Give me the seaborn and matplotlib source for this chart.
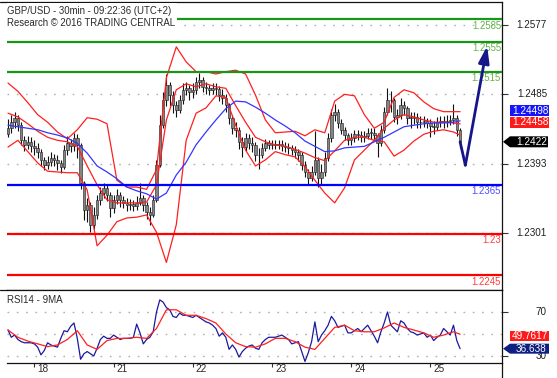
import numpy as np
import pandas as pd
import seaborn as sns
import matplotlib
matplotlib.use("Agg")
import matplotlib.pyplot as plt
from matplotlib.patches import Polygon, Rectangle
from matplotlib.lines import Line2D
from matplotlib.transforms import ScaledTranslation, blended_transform_factory

# ---------------- data (hourly bars) ----------------
day_labels = ['18', '21', '22', '23', '24', '25']
day_start_bar = [8, 32, 56, 80, 104, 128]

open_first = 1.2432
close = [1.2440, 1.2448, 1.2454, 1.2444, 1.2424, 1.2418, 1.2422, 1.2416, 1.2414, 1.2408,
         1.2398, 1.2391, 1.2395, 1.2400, 1.2398, 1.2394, 1.2389, 1.2411, 1.2420, 1.2416,
         1.2427, 1.2418, 1.2367, 1.2331, 1.2338, 1.2312, 1.2325, 1.2345, 1.2354, 1.2361,
         1.2351, 1.2334, 1.2345, 1.2351, 1.2345, 1.2341, 1.2338, 1.2339, 1.2337, 1.2341,
         1.2347, 1.2338, 1.2329, 1.2325, 1.2345, 1.2391, 1.2444, 1.2477, 1.2497, 1.2484,
         1.2471, 1.2464, 1.2477, 1.2491, 1.2493, 1.2488, 1.2491, 1.2501, 1.2504, 1.2495,
         1.2493, 1.2491, 1.2493, 1.2492, 1.2484, 1.2480, 1.2471, 1.2454, 1.2440, 1.2438,
         1.2422, 1.2415, 1.2427, 1.2420, 1.2418, 1.2404, 1.2404, 1.2414, 1.2420, 1.2418,
         1.2419, 1.2418, 1.2419, 1.2416, 1.2415, 1.2414, 1.2411, 1.2408, 1.2404, 1.2391,
         1.2382, 1.2374, 1.2382, 1.2398, 1.2374, 1.2382, 1.2400, 1.2427, 1.2458, 1.2462,
         1.2447, 1.2438, 1.2431, 1.2424, 1.2427, 1.2432, 1.2431, 1.2428, 1.2430, 1.2434,
         1.2434, 1.2431, 1.2420, 1.2438, 1.2462, 1.2477, 1.2477, 1.2455, 1.2458, 1.2471,
         1.2467, 1.2454, 1.2454, 1.2455, 1.2448, 1.2448, 1.2450, 1.2447, 1.2443, 1.2442,
         1.2448, 1.2450, 1.2448, 1.2450, 1.2451, 1.2454, 1.2438, 1.2422]
high = [1.2452, 1.2458, 1.2462, 1.2458, 1.2448, 1.2430, 1.2430, 1.2428, 1.2424, 1.2420,
        1.2412, 1.2402, 1.2403, 1.2408, 1.2406, 1.2404, 1.2398, 1.2418, 1.2430, 1.2426,
        1.2434, 1.2432, 1.2420, 1.2370, 1.2348, 1.2342, 1.2336, 1.2352, 1.2362, 1.2368,
        1.2366, 1.2356, 1.2352, 1.2360, 1.2356, 1.2350, 1.2348, 1.2346, 1.2345, 1.2350,
        1.2368, 1.2352, 1.2342, 1.2336, 1.2352, 1.2398, 1.2458, 1.2488, 1.2512, 1.2502,
        1.2490, 1.2476, 1.2484, 1.2500, 1.2502, 1.2498, 1.2500, 1.2508, 1.2513, 1.2508,
        1.2502, 1.2498, 1.2500, 1.2500, 1.2496, 1.2492, 1.2486, 1.2474, 1.2458, 1.2448,
        1.2442, 1.2428, 1.2434, 1.2432, 1.2428, 1.2422, 1.2414, 1.2420, 1.2426, 1.2424,
        1.2424, 1.2424, 1.2424, 1.2424, 1.2422, 1.2420, 1.2418, 1.2416, 1.2412, 1.2408,
        1.2396, 1.2386, 1.2390, 1.2436, 1.2402, 1.2392, 1.2408, 1.2434, 1.2466, 1.2472,
        1.2466, 1.2452, 1.2442, 1.2434, 1.2434, 1.2438, 1.2438, 1.2436, 1.2436, 1.2440,
        1.2440, 1.2440, 1.2434, 1.2444, 1.2468, 1.2494, 1.2490, 1.2480, 1.2466, 1.2480,
        1.2476, 1.2470, 1.2462, 1.2462, 1.2460, 1.2456, 1.2456, 1.2454, 1.2452, 1.2450,
        1.2455, 1.2456, 1.2456, 1.2458, 1.2458, 1.2472, 1.2458, 1.2440]
low = [1.2428, 1.2434, 1.2440, 1.2436, 1.2418, 1.2410, 1.2412, 1.2408, 1.2405, 1.2400,
       1.2390, 1.2384, 1.2386, 1.2390, 1.2390, 1.2385, 1.2381, 1.2386, 1.2405, 1.2408,
       1.2410, 1.2400, 1.2360, 1.2318, 1.2315, 1.2302, 1.2306, 1.2320, 1.2338, 1.2348,
       1.2344, 1.2322, 1.2328, 1.2340, 1.2336, 1.2334, 1.2330, 1.2332, 1.2330, 1.2332,
       1.2338, 1.2330, 1.2320, 1.2312, 1.2322, 1.2342, 1.2388, 1.2440, 1.2470, 1.2470,
       1.2460, 1.2455, 1.2460, 1.2472, 1.2484, 1.2478, 1.2480, 1.2486, 1.2494, 1.2488,
       1.2486, 1.2484, 1.2485, 1.2484, 1.2476, 1.2472, 1.2462, 1.2446, 1.2432, 1.2428,
       1.2412, 1.2402, 1.2410, 1.2412, 1.2408, 1.2396, 1.2386, 1.2400, 1.2410, 1.2412,
       1.2412, 1.2412, 1.2412, 1.2410, 1.2408, 1.2406, 1.2404, 1.2400, 1.2396, 1.2384,
       1.2375, 1.2366, 1.2370, 1.2378, 1.2362, 1.2366, 1.2376, 1.2396, 1.2422, 1.2450,
       1.2440, 1.2432, 1.2424, 1.2418, 1.2418, 1.2422, 1.2424, 1.2422, 1.2422, 1.2426,
       1.2426, 1.2424, 1.2402, 1.2416, 1.2434, 1.2458, 1.2462, 1.2448, 1.2446, 1.2452,
       1.2458, 1.2446, 1.2440, 1.2446, 1.2440, 1.2440, 1.2442, 1.2440, 1.2428, 1.2432,
       1.2438, 1.2442, 1.2440, 1.2442, 1.2444, 1.2446, 1.2430, 1.2414]

# indicator samples every 3 bars
band_bars = list(range(0, 136, 3)) + [137]
bb_upper = [1.2500, 1.2489, 1.2474, 1.2458, 1.2448, 1.2435, 1.2426, 1.2438, 1.2454, 1.2452,
            1.2446, 1.2371, 1.2362, 1.2362, 1.2359, 1.2385, 1.2507, 1.2548, 1.2528, 1.2515,
            1.2515, 1.2512, 1.2515, 1.2517, 1.2512, 1.2484, 1.2451, 1.2434, 1.2435, 1.2436,
            1.2430, 1.2438, 1.2434, 1.2476, 1.2485, 1.2483, 1.2458, 1.2440, 1.2448, 1.2481,
            1.2491, 1.2487, 1.2475, 1.2466, 1.2462, 1.2462, 1.2462]
bb_mid = [1.2460, 1.2455, 1.2446, 1.2436, 1.2428, 1.2424, 1.2422, 1.2416, 1.2390, 1.2365,
          1.2345, 1.2341, 1.2341, 1.2341, 1.2342, 1.2365, 1.2451, 1.2491, 1.2499, 1.2495,
          1.2499, 1.2495, 1.2493, 1.2470, 1.2448, 1.2428, 1.2422, 1.2418, 1.2416, 1.2412,
          1.2407, 1.2401, 1.2397, 1.2410, 1.2424, 1.2428, 1.2428, 1.2424, 1.2440, 1.2451,
          1.2458, 1.2455, 1.2451, 1.2448, 1.2448, 1.2447, 1.24458]
bb_lower = [1.2415, 1.2424, 1.2409, 1.2394, 1.2383, 1.2382, 1.2381, 1.2381, 1.2358, 1.2284,
            1.2298, 1.2316, 1.2321, 1.2322, 1.2325, 1.2302, 1.2262, 1.2312, 1.2424, 1.2460,
            1.2467, 1.2483, 1.2481, 1.2444, 1.2411, 1.2390, 1.2398, 1.2409, 1.2405, 1.2402,
            1.2389, 1.2371, 1.2354, 1.2341, 1.2361, 1.2398, 1.2411, 1.2424, 1.2422, 1.2403,
            1.2411, 1.2423, 1.2432, 1.2436, 1.2438, 1.2435, 1.2431]
ma_blue = [1.2444, 1.2442, 1.2440, 1.2438, 1.2434, 1.2431, 1.2427, 1.2420, 1.2407, 1.2390,
           1.2382, 1.2373, 1.2362, 1.2357, 1.2353, 1.2346, 1.2354, 1.2378, 1.2395, 1.2418,
           1.2435, 1.2451, 1.2466, 1.2476, 1.2475, 1.2468, 1.2460, 1.2451, 1.2443, 1.2434,
           1.2423, 1.2416, 1.2409, 1.2410, 1.2414, 1.2415, 1.2416, 1.2422, 1.2428, 1.2435,
           1.2442, 1.2444, 1.2446, 1.2447, 1.2447, 1.2448, 1.24498]

rsi = [53.6, 47, 49, 45, 43, 42, 42, 42, 41, 38,
       31, 35, 42, 40, 39, 38, 46, 53, 52, 57,
       60, 46, 27, 32, 34, 32, 30, 37, 45, 48,
       46, 46, 49, 47, 45, 46, 46, 46, 47, 59,
       51, 41, 45, 47, 52, 70, 81, 79, 74, 72,
       66, 65, 69, 67, 67, 66, 65, 67, 65, 63,
       61, 60, 58, 55, 48, 51, 47, 36, 40, 36,
       29, 34, 37, 39, 40, 37, 36, 42, 45, 47,
       47, 47, 48, 49, 47, 45, 41, 42, 43, 34,
       25, 33, 43, 61, 43, 49, 53, 58, 66, 62,
       56, 57, 58, 51, 51, 53, 55, 52, 55, 58,
       53, 48, 42, 52, 60, 70, 58, 55, 52, 62,
       60, 55, 52, 51, 49, 50, 51, 47, 49, 44,
       47, 49, 55, 52, 49, 58, 44, 36.638]
rsi_ma = [53.6, 47, 43.5, 41, 38.5, 40, 45, 53, 40, 36,
          44, 46, 46, 47, 46, 55, 72, 72, 67, 67,
          64, 60, 50, 42, 38.5, 38, 41, 46, 46, 43,
          38, 36, 46, 56, 58, 53, 52, 52, 55.5, 60,
          56, 53.6, 51, 47, 49, 52, 49.7617]

resist_levels = [1.2585, 1.2555, 1.2515]
resist_labels = ['1.2585', '1.2555', '1.2515']
pivot_levels = [1.2365]
pivot_labels = ['1.2365']
support_levels = [1.2300, 1.2245]
support_labels = ['1.23', '1.2245']
price_ticks = [1.2577, 1.2485, 1.2393, 1.2301]
rsi_ticks = [70, 50, 30]
rsi_tick_labels = ['70', '', '30']
forecast_x = [137, 138.6, 145.2]
forecast_y = [1.2422, 1.2391, 1.2549]

# ---------------- styling ----------------
sns.set_style("white")
plt.rcParams['font.family'] = ['Liberation Sans', 'DejaVu Sans']

W, H = 557, 378
fig = plt.figure(figsize=(W / 100, H / 100), dpi=100)
fig.patch.set_facecolor('white')


def frame(x0, y0, x1, y1):
    return [x0 / W, 1 - y1 / H, (x1 - x0) / W, (y1 - y0) / H]


ax = fig.add_axes(frame(7, 2, 502, 290))
axr = fig.add_axes(frame(7, 290, 502, 363))

XLIM = (-0.3, 149.7)
RED, BLUE, GREEN, NAVY = '#ff1f1f', '#0000ff', '#199619', '#16168a'

# ---------------- main price panel ----------------
bars = np.arange(len(close))
c = np.array(close)
o = np.concatenate([[open_first], c[:-1]])
h = np.array(high)
l = np.array(low)

for v in price_ticks:
    ax.axhline(v, color='#b0b0b0', lw=1.0, ls=(0, (1.2, 5.5)), zorder=0)

ax.vlines(bars, l, h, color='#111111', lw=0.8, zorder=2)
body_lo = np.minimum(o, c)
body_h = np.maximum(np.abs(c - o), 0.00008)
ax.bar(bars, body_h, bottom=body_lo, width=0.78, color='#858585',
       edgecolor='#1a1a1a', linewidth=0.4, zorder=2.1)

bands = pd.DataFrame({'bar': band_bars, 'upper': bb_upper, 'mid': bb_mid,
                      'lower': bb_lower, 'ma': ma_blue})
for col in ['upper', 'mid', 'lower']:
    sns.lineplot(data=bands, x='bar', y=col, ax=ax, color=RED, lw=0.9, zorder=3)
sns.lineplot(data=bands, x='bar', y='ma', ax=ax, color='#3535ff', lw=0.9, zorder=3)

lvl_tr = blended_transform_factory(ax.transAxes, ax.transData)
for levels, labels, lc, tc in [(resist_levels, resist_labels, GREEN, '#63b24a'),
                               (pivot_levels, pivot_labels, BLUE, '#4d4dff'),
                               (support_levels, support_labels, '#ff0000', '#ff3c3c')]:
    for v, t in zip(levels, labels):
        ax.axhline(v, color=lc, lw=1.6, zorder=4)
        ax.annotate(t, xy=(0.998, v), xycoords=lvl_tr, xytext=(0, -1.2),
                    textcoords='offset points', ha='right', va='top',
                    fontsize=6.9, color=tc, zorder=4)

# forecast arrow
ax.plot(forecast_x[:2], forecast_y[:2], color=NAVY, lw=2.0, zorder=6,
        solid_capstyle='round')
ax.annotate('', xy=(forecast_x[2], forecast_y[2]), xytext=(forecast_x[1], forecast_y[1]),
            arrowprops=dict(arrowstyle='-|>,head_length=1.0,head_width=0.32',
                            color=NAVY, lw=2.0, shrinkA=0, shrinkB=0,
                            mutation_scale=10), zorder=6)

ax.set_xlim(*XLIM)
ax.set_ylim(1.22254, 1.26075)
ax.set_xlabel('')
ax.set_ylabel('')
ax.set_xticks([])
ax.yaxis.tick_right()
ax.set_yticks(price_ticks)
ax.set_yticklabels([])
ax.tick_params(axis='y', length=4, width=0.8, color='#333333', direction='out')
for s in ['top', 'right', 'bottom']:
    ax.spines[s].set_visible(True)
    ax.spines[s].set_color('#111111')
    ax.spines[s].set_linewidth(0.9)
ax.spines['left'].set_visible(False)
for v in price_ticks:
    ax.text((547 - 7) / 495, v, f'{v:.4f}', transform=lvl_tr, ha='right',
            va='center', fontsize=7.1, color='#1e1e1e', clip_on=False)

# ---------------- RSI panel ----------------
for v in rsi_ticks:
    axr.axhline(v, color='#b0b0b0', lw=1.0, ls=(0, (1.2, 5.5)), zorder=0)
sns.lineplot(x=band_bars, y=rsi_ma, ax=axr, color=RED, lw=0.9, zorder=3)
sns.lineplot(x=bars, y=rsi, ax=axr, color='#1a1aa0', lw=0.9, zorder=2)
axr.set_xlim(*XLIM)
axr.set_ylim(23.6, 90)
axr.set_xlabel('')
axr.set_ylabel('')
axr.yaxis.tick_right()
axr.set_yticks([70, 30])
axr.set_yticklabels([])
axr.tick_params(axis='y', length=4, width=0.8, color='#333333', direction='out')
rsi_tr = blended_transform_factory(axr.transAxes, axr.transData)
for v, t in zip(rsi_ticks, rsi_tick_labels):
    if t:
        axr.text((547 - 7) / 495, v, t, transform=rsi_tr, ha='right', va='center',
                 fontsize=7.1, color='#1e1e1e', clip_on=False)
axr.set_xticks(day_start_bar)
axr.set_xticklabels(day_labels)
axr.tick_params(axis='x', length=3.2, width=0.8, color='#333333', direction='out',
                pad=-2.6, labelsize=7.2, labelcolor='#2a2a2a', bottom=True)
off = ScaledTranslation(2.2 / 72, 0, fig.dpi_scale_trans)
for lbl in axr.get_xticklabels():
    lbl.set_horizontalalignment('left')
    lbl.set_transform(lbl.get_transform() + off)
for s in ['top', 'right', 'bottom']:
    axr.spines[s].set_visible(True)
    axr.spines[s].set_color('#111111')
    axr.spines[s].set_linewidth(0.9)
axr.spines['left'].set_visible(False)
axr.text(0.0, 0.935, 'RSI14 - 9MA', transform=axr.transAxes, ha='left', va='top',
         fontsize=7.0, color='#2a2a2a')

# ---------------- figure-level decorations ----------------
fig.add_artist(Line2D([0, 7 / W], [1 - 2 / H] * 2, color='#111111', lw=0.9))
fig.add_artist(Line2D([0, 7 / W], [1 - 290 / H] * 2, color='#111111', lw=0.9))
fig.add_artist(Line2D([502 / W] * 2, [0, 1 - 363 / H], color='#111111', lw=0.9))

fig.add_artist(Rectangle((7 / W, 1 - 29 / H), 170 / W, 26 / H, transform=fig.transFigure,
                         fc='white', ec='none', zorder=5))
fig.text(7 / W, 1 - 11.5 / H, 'GBP/USD - 30min - 09:22:36 (UTC+2)', ha='left', va='center',
         fontsize=6.9, color='#2a2a2a', zorder=6)
fig.text(7 / W, 1 - 23.5 / H, 'Research \u00a9 2016 TRADING CENTRAL', ha='left', va='center',
         fontsize=6.9, color='#2a2a2a', zorder=6)


def tag(yc, x0, x1, color, text, tx, arrow=False, hh=11):
    if arrow:
        pts = [(x0, yc), (x0 + 7, yc + hh / 2), (x1, yc + hh / 2), (x1, yc - hh / 2),
               (x0 + 7, yc - hh / 2)]
    else:
        pts = [(x0, yc - hh / 2), (x0, yc + hh / 2), (x1, yc + hh / 2), (x1, yc - hh / 2)]
    fig.add_artist(Polygon([(px / W, py / H) for px, py in pts], closed=True,
                           transform=fig.transFigure, fc=color, ec='none', zorder=7))
    fig.text(tx / W, yc / H, text, ha='center', va='center', color='white',
             fontsize=7.2, zorder=8)


def ydisp(a, v):
    return a.transData.transform((0, v))[1]


y_red = ydisp(ax, bb_mid[-1]) + 1.5
tag(y_red, 510, 549, '#ff1a1a', f'{bb_mid[-1]:.5f}', 530)
tag(y_red + 11.5, 510, 549, '#1414ff', f'{ma_blue[-1]:.5f}', 530)
tag(ydisp(ax, close[-1]), 503, 548, '#000000', f'{close[-1]:.4f}', 532, arrow=True)
tag(ydisp(axr, rsi_ma[-1]) - 1.5, 510, 549, '#ff1a1a', f'{rsi_ma[-1]:.4f}', 530, hh=10)
tag(ydisp(axr, rsi[-1]), 503, 549, '#0d1f80', f'{rsi[-1]:.3f}', 531, arrow=True, hh=10)

fig.savefig('out.png', dpi=100, facecolor='white')
